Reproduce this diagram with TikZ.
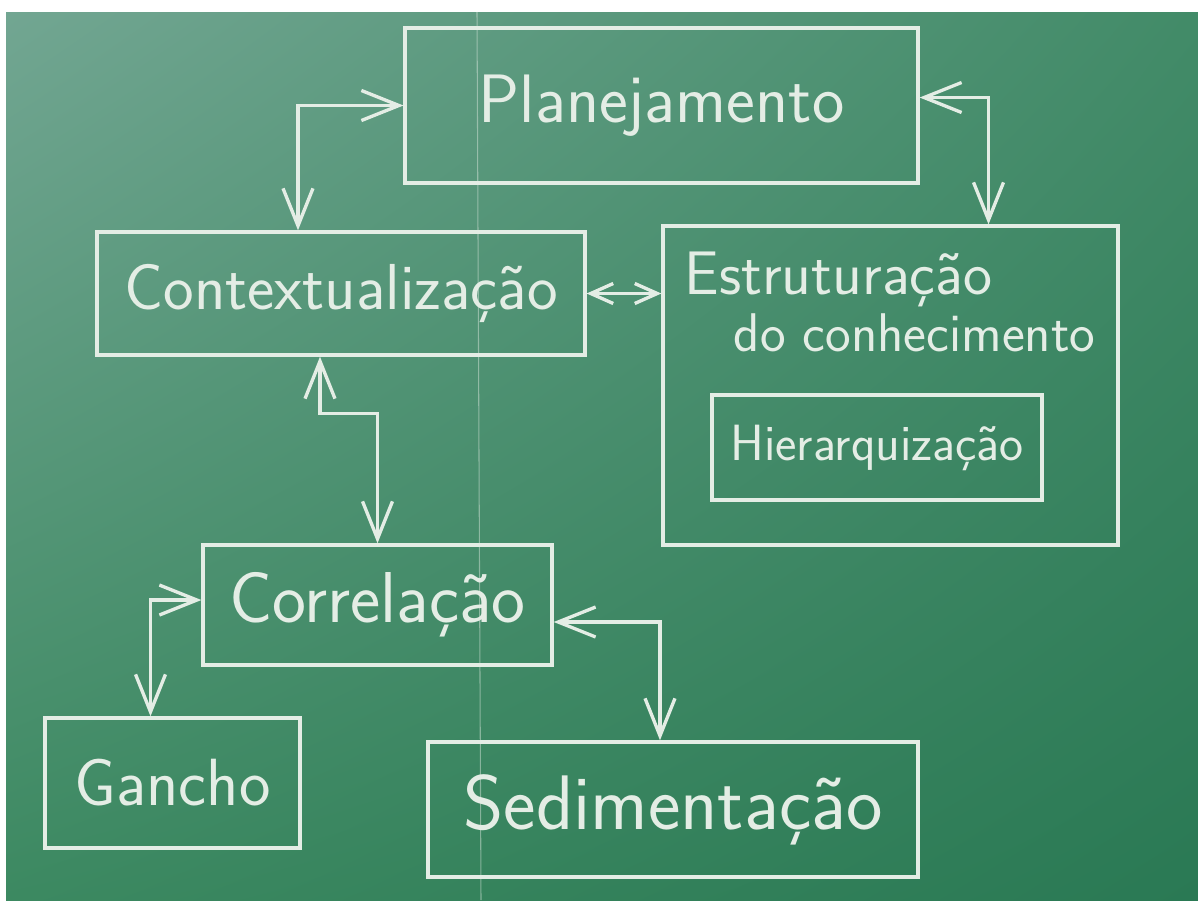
\documentclass[tikz,border=0pt]{standalone}
\usetikzlibrary{arrows.meta}
\usetikzlibrary{shadings}
\definecolor{chalk}{RGB}{228,237,229}
\definecolor{boardul}{RGB}{114,166,146}
\definecolor{boardur}{RGB}{66,139,104}
\definecolor{boardll}{RGB}{60,137,97}
\definecolor{boardlr}{RGB}{42,121,84}
\tikzset{>={Straight Barb[length=0.75cm,width=0.6cm]}}
\tikzset{%
  chalkbox/.style={draw=chalk, line width=1.9pt, text=chalk, inner sep=0pt},
  chalktext/.style={text=chalk, inner sep=0pt},
  chalkarrow/.style={draw=chalk, line width=1.9pt, <->},
  chalkfont/.style={font=\sffamily\fontsize{#1}{#1}\selectfont}
}

\begin{document}
\begin{tikzpicture}[x=0.02cm, y=-0.02cm]

    % page and board
    \fill[white] (0,0) rectangle (1198,906);
    \useasboundingbox (0,0) rectangle (1198,906);
    \shade[upper left=boardul, upper right=boardur, lower left=boardll, lower right=boardlr] (6,12) rectangle (1198,900);
    \draw[chalk, opacity=0.45, line width=0.6pt] (477,12) -- (481,900);

    % boxes
    \node[chalkbox, chalkfont=39, minimum width=10.26cm, minimum height=3.1cm] (plan) at (661.5,105.5) {Planejamento};
    \node[chalkbox, chalkfont=37, minimum width=9.76cm, minimum height=2.46cm] (context) at (341,293.5) {Contextualização};
    \node[chalkbox, minimum width=9.1cm, minimum height=6.38cm] (estr) at (890.5,385.5) {};
    \node[chalkbox, chalkfont=29, minimum width=6.6cm, minimum height=2.1cm] (hier) at (877,447.5) {Hierarquização};
    \node[chalkbox, chalkfont=41, minimum width=6.98cm, minimum height=2.4cm] (corr) at (377.5,605) {Correlação};
    \node[chalkbox, chalkfont=38, minimum width=5.1cm, minimum height=2.6cm] (gancho) at (172.5,783) {Gancho};
    \node[chalkbox, chalkfont=44, minimum width=9.8cm, minimum height=2.7cm] (sed) at (673,809.5) {Sedimentação};

    % title of the big box, two lines
    \node[chalktext, chalkfont=35, anchor=base west] (estrtitle) at ([shift={(23,70)}]estr.north west) {Estruturação};
    \node[chalktext, chalkfont=31, anchor=base west] (estrsub) at ([shift={(72,127)}]estr.north west) {do conhecimento};

    % connectors
    \draw[chalkarrow] (plan.west) -| ([shift={(-43,0)}]context.north);
    \draw[chalkarrow] ([shift={(0,-8)}]plan.east) -| ([shift={(98,0)}]estr.north);
    \draw[chalkarrow, >={Straight Barb[length=0.45cm,width=0.4cm]}] (context.east) -- (context.east -| estr.west);
    \draw[chalkarrow] ([shift={(-21,0)}]context.south) -- ++(0,57) -| (corr.north);
    \draw[chalkarrow] ([shift={(0,-5)}]corr.west) -| ([shift={(-22,0)}]gancho.north);
    \draw[chalkarrow] ([shift={(0,17)}]corr.east) -| ([shift={(-13,0)}]sed.north);

\end{tikzpicture}
\end{document}
